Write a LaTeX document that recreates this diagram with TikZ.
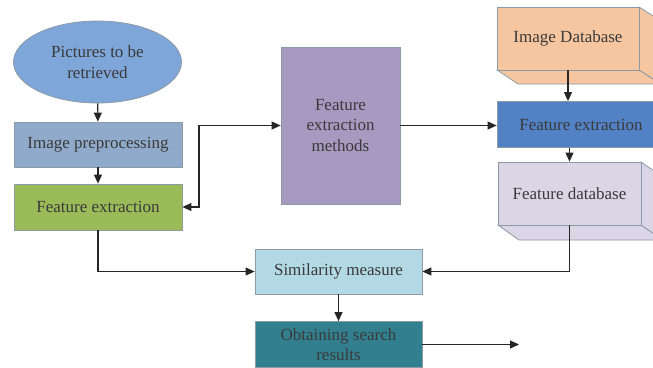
\documentclass[tikz,border=0pt]{standalone}
\usepackage{fontspec}
\setmainfont{Liberation Serif}
\usetikzlibrary{shapes.geometric,arrows.meta,calc}
\definecolor{txt}{HTML}{3A3A3A}
\definecolor{edge}{HTML}{8C9AA6}
\definecolor{cEll}{HTML}{7EA6D8}
\definecolor{cPrep}{HTML}{8FAACA}
\definecolor{cGreen}{HTML}{9BBB59}
\definecolor{cPurple}{HTML}{A799C0}
\definecolor{cOrange}{HTML}{F5C6A0}
\definecolor{cBlue}{HTML}{5282C5}
\definecolor{cLilac}{HTML}{DAD6E6}
\definecolor{cSim}{HTML}{B2D9E4}
\definecolor{cTeal}{HTML}{32808F}
\tikzset{
  lbl/.style={font=\fontsize{17}{20.5}\selectfont, text=txt, align=center, inner sep=0pt},
  box/.style={lbl, draw=edge, line width=0.8pt, rectangle},
  conn/.style={line width=1.1pt, draw=black!85, -{Triangle[length=9pt,width=8pt]}},
  dconn/.style={line width=1.1pt, draw=black!85, {Triangle[length=9pt,width=8pt]}-{Triangle[length=9pt,width=8pt]}},
  sidefill/.style={draw=edge, line width=0.8pt}
}
\begin{document}
\begin{tikzpicture}[x=1pt,y=-1pt]
\clip (0,0) rectangle (653,367);
\fill[white] (0,0) rectangle (653,367);
% nodes
\node[lbl, ellipse, draw=edge, line width=0.8pt, fill=cEll, minimum width=168pt, minimum height=82pt] (pics) at (97.5,62) {Pictures to be\\retrieved};
\node[box, fill=cPrep, minimum width=168pt, minimum height=45pt] (prep) at (98,144.5) {Image preprocessing};
\node[box, fill=cGreen, minimum width=168pt, minimum height=46pt] (fe1) at (98,207) {Feature extraction};
\node[box, fill=cPurple, minimum width=119pt, minimum height=157pt] (fem) at (340.5,125.5) {Feature\\extraction\\methods};
% image database cuboid
\fill[cOrange, sidefill] (497,70) -- (639,70) -- (661,84) -- (518,84) -- cycle;
\fill[cOrange, sidefill] (639,7) -- (661,21) -- (661,84) -- (639,70) -- cycle;
\node[box, fill=cOrange, minimum width=142pt, minimum height=63pt] (imgdb) at (568,38.5) {Image Database};
\node[box, fill=cBlue, minimum width=168pt, minimum height=46pt] (fe2) at (581,124.5) {Feature extraction};
% feature database cuboid
\fill[cLilac, sidefill] (498,225) -- (641,225) -- (663,240) -- (519,240) -- cycle;
\fill[cLilac, sidefill] (641,162) -- (663,177) -- (663,240) -- (641,225) -- cycle;
\node[box, fill=cLilac, minimum width=143pt, minimum height=63pt] (featdb) at (569.5,193.5) {Feature database};
\node[box, fill=cSim, minimum width=167pt, minimum height=45pt] (sim) at (338.5,271.5) {Similarity measure};
\node[box, fill=cTeal, minimum width=167pt, minimum height=46pt] (obt) at (338.5,344.5) {Obtaining search\\results};
\coordinate (bend) at (199,207);
\coordinate (outend) at (519,344.5);
% connectors
\draw[conn] (pics) -- (prep);
\draw[conn] (prep) -- (fe1);
\draw[dconn] (fe1.east) -- (bend) |- (fem.west);
\draw[conn] (fem.east) -- (fem.east -| fe2.west);
\draw[conn] (imgdb.south) -- (imgdb.south |- fe2.north);
\draw[conn] (featdb.north |- fe2.south) -- (featdb.north);
\draw[conn] (featdb.south) |- (sim.east);
\draw[conn] (fe1.south) |- (sim.west);
\draw[conn] (sim) -- (obt);
\draw[conn] (obt.east) -- (outend);
\end{tikzpicture}
\end{document}
